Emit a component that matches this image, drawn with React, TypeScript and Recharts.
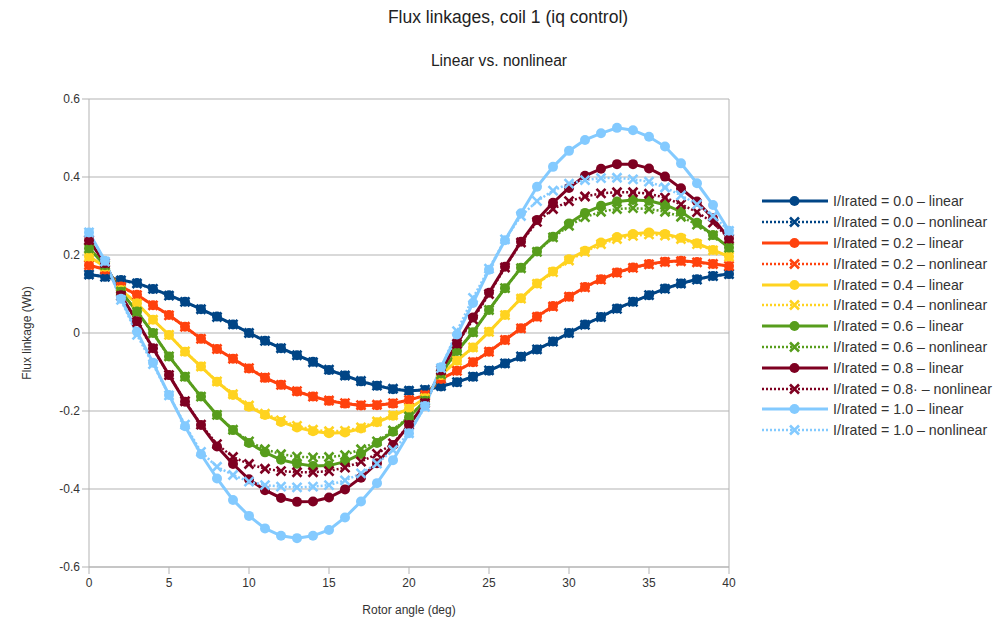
import { CartesianGrid, Line, LineChart, ReferenceLine, XAxis, YAxis } from "recharts";

const palette = {
  blue: "#004586",
  orange: "#ff420e",
  yellow: "#ffd320",
  green: "#579d1c",
  maroon: "#7e0021",
  sky: "#83caff",
  grid: "#b3b3b3",
  text: "#333333",
};

const angles = [
  0, 1, 2, 3, 4, 5, 6, 7, 8, 9, 10, 11, 12, 13, 14, 15, 16, 17, 18, 19, 20,
  21, 22, 23, 24, 25, 26, 27, 28, 29, 30, 31, 32, 33, 34, 35, 36, 37, 38, 39, 40,
];

const lin00 = [
  0.150, 0.144, 0.136, 0.128, 0.113, 0.097, 0.080, 0.061, 0.042, 0.022, 0.000,
  -0.020, -0.039, -0.057, -0.074, -0.095, -0.109, -0.124, -0.135, -0.144, -0.148,
  -0.146, -0.137, -0.126, -0.112, -0.097, -0.078, -0.061, -0.042, -0.022, 0.000,
  0.022, 0.041, 0.063, 0.080, 0.097, 0.114, 0.127, 0.138, 0.146, 0.151,
];
const non00 = [
  0.150, 0.144, 0.135, 0.127, 0.113, 0.096, 0.080, 0.061, 0.041, 0.022, 0.000,
  -0.020, -0.039, -0.057, -0.075, -0.094, -0.109, -0.123, -0.135, -0.143, -0.148,
  -0.145, -0.136, -0.126, -0.112, -0.096, -0.078, -0.060, -0.042, -0.022, 0.000,
  0.021, 0.041, 0.062, 0.080, 0.097, 0.113, 0.127, 0.137, 0.146, 0.151,
];
const lin02 = [
  0.174, 0.163, 0.119, 0.098, 0.071, 0.046, 0.016, -0.015, -0.041, -0.066, -0.091,
  -0.115, -0.133, -0.150, -0.163, -0.174, -0.181, -0.186, -0.185, -0.181, -0.172,
  -0.160, -0.118, -0.097, -0.075, -0.048, -0.018, 0.012, 0.042, 0.069, 0.093,
  0.118, 0.138, 0.155, 0.168, 0.177, 0.183, 0.185, 0.182, 0.177, 0.172,
];
const non02 = [
  0.174, 0.163, 0.118, 0.097, 0.071, 0.045, 0.016, -0.015, -0.041, -0.066, -0.090,
  -0.114, -0.133, -0.149, -0.163, -0.173, -0.180, -0.185, -0.184, -0.180, -0.172,
  -0.159, -0.117, -0.097, -0.074, -0.048, -0.018, 0.012, 0.041, 0.068, 0.093,
  0.117, 0.137, 0.154, 0.167, 0.176, 0.182, 0.184, 0.181, 0.177, 0.172,
];
const lin04 = [
  0.196, 0.170, 0.110, 0.076, 0.034, -0.005, -0.048, -0.086, -0.125, -0.159, -0.189,
  -0.210, -0.228, -0.242, -0.252, -0.257, -0.255, -0.245, -0.229, -0.212, -0.194,
  -0.167, -0.108, -0.071, -0.037, 0.003, 0.046, 0.089, 0.127, 0.158, 0.189,
  0.211, 0.232, 0.246, 0.254, 0.258, 0.254, 0.244, 0.230, 0.213, 0.196,
];
const non04 = [
  0.196, 0.170, 0.109, 0.075, 0.034, -0.005, -0.047, -0.086, -0.124, -0.157, -0.186,
  -0.207, -0.224, -0.238, -0.248, -0.252, -0.251, -0.242, -0.227, -0.211, -0.194,
  -0.167, -0.107, -0.071, -0.037, 0.003, 0.046, 0.088, 0.126, 0.156, 0.186,
  0.208, 0.228, 0.241, 0.249, 0.253, 0.250, 0.241, 0.228, 0.212, 0.196,
];
const lin06 = [
  0.217, 0.174, 0.106, 0.055, 0.000, -0.060, -0.112, -0.163, -0.210, -0.249, -0.282,
  -0.306, -0.325, -0.335, -0.341, -0.340, -0.330, -0.310, -0.282, -0.253, -0.216,
  -0.174, -0.104, -0.046, 0.002, 0.059, 0.115, 0.167, 0.209, 0.247, 0.281,
  0.308, 0.326, 0.337, 0.341, 0.339, 0.329, 0.311, 0.283, 0.251, 0.219,
];
const non06 = [
  0.217, 0.174, 0.106, 0.054, -0.001, -0.060, -0.112, -0.163, -0.210, -0.248, -0.278,
  -0.298, -0.311, -0.317, -0.319, -0.318, -0.313, -0.298, -0.278, -0.250, -0.214,
  -0.174, -0.106, -0.046, 0.002, 0.059, 0.115, 0.166, 0.208, 0.245, 0.275,
  0.297, 0.311, 0.318, 0.320, 0.318, 0.311, 0.298, 0.278, 0.250, 0.219,
];
const lin08 = [
  0.238, 0.179, 0.097, 0.030, -0.039, -0.108, -0.176, -0.236, -0.291, -0.336, -0.375,
  -0.403, -0.423, -0.433, -0.432, -0.422, -0.401, -0.371, -0.334, -0.287, -0.236,
  -0.180, -0.096, -0.027, 0.040, 0.103, 0.170, 0.234, 0.290, 0.334, 0.372,
  0.403, 0.421, 0.433, 0.433, 0.422, 0.401, 0.371, 0.337, 0.294, 0.242,
];
const non08 = [
  0.238, 0.179, 0.095, 0.028, -0.040, -0.108, -0.175, -0.235, -0.285, -0.318, -0.336,
  -0.348, -0.354, -0.357, -0.357, -0.354, -0.345, -0.330, -0.310, -0.283, -0.236,
  -0.180, -0.095, -0.028, 0.035, 0.100, 0.168, 0.232, 0.285, 0.318, 0.338,
  0.350, 0.358, 0.361, 0.361, 0.357, 0.347, 0.330, 0.310, 0.283, 0.242,
];
const lin10 = [
  0.258, 0.185, 0.088, 0.003, -0.076, -0.159, -0.239, -0.311, -0.373, -0.428, -0.469,
  -0.501, -0.520, -0.526, -0.520, -0.505, -0.473, -0.432, -0.385, -0.326, -0.257,
  -0.187, -0.088, -0.004, 0.077, 0.162, 0.238, 0.307, 0.375, 0.426, 0.467,
  0.495, 0.512, 0.526, 0.520, 0.503, 0.478, 0.435, 0.384, 0.328, 0.262,
];
const non10 = [
  0.258, 0.183, 0.085, -0.005, -0.080, -0.160, -0.235, -0.305, -0.343, -0.364, -0.381,
  -0.390, -0.394, -0.396, -0.394, -0.390, -0.378, -0.360, -0.335, -0.300, -0.257,
  -0.189, -0.090, 0.005, 0.090, 0.165, 0.240, 0.300, 0.338, 0.365, 0.383,
  0.392, 0.397, 0.398, 0.394, 0.388, 0.373, 0.353, 0.330, 0.300, 0.262,
];

const yTicks = [-0.6, -0.4, -0.2, 0, 0.2, 0.4, 0.6];
const xTicks = [0, 5, 10, 15, 20, 25, 30, 35, 40];

const series = [
  { key: "lin00", name: "I/Irated = 0.0 – linear", color: palette.blue, values: lin00, nonlinear: false },
  { key: "non00", name: "I/Irated = 0.0 – nonlinear", color: palette.blue, values: non00, nonlinear: true },
  { key: "lin02", name: "I/Irated = 0.2 – linear", color: palette.orange, values: lin02, nonlinear: false },
  { key: "non02", name: "I/Irated = 0.2 – nonlinear", color: palette.orange, values: non02, nonlinear: true },
  { key: "lin04", name: "I/Irated = 0.4 – linear", color: palette.yellow, values: lin04, nonlinear: false },
  { key: "non04", name: "I/Irated = 0.4 – nonlinear", color: palette.yellow, values: non04, nonlinear: true },
  { key: "lin06", name: "I/Irated = 0.6 – linear", color: palette.green, values: lin06, nonlinear: false },
  { key: "non06", name: "I/Irated = 0.6 – nonlinear", color: palette.green, values: non06, nonlinear: true },
  { key: "lin08", name: "I/Irated = 0.8 – linear", color: palette.maroon, values: lin08, nonlinear: false },
  { key: "non08", name: "I/Irated = 0.8· – nonlinear", color: palette.maroon, values: non08, nonlinear: true },
  { key: "lin10", name: "I/Irated = 1.0 – linear", color: palette.sky, values: lin10, nonlinear: false },
  { key: "non10", name: "I/Irated = 1.0 – nonlinear", color: palette.sky, values: non10, nonlinear: true },
];

const rows = angles.map((angle, i) => {
  const row: Record<string, number> = { angle };
  series.forEach((s) => {
    row[s.key] = s.values[i];
  });
  return row;
});

const font = '"Liberation Sans", Arial, sans-serif';

function CrossDot(props: any) {
  const { cx, cy, stroke, index } = props;
  if (cx == null || cy == null) return null;
  const d = 4.5;
  return (
    <path
      key={`x-${index}`}
      d={`M${cx - d},${cy - d}L${cx + d},${cy + d}M${cx - d},${cy + d}L${cx + d},${cy - d}`}
      stroke={stroke}
      strokeWidth={2.6}
      fill="none"
    />
  );
}

// legend drawn beside the chart so it doesn't eat plot width
function LegendBox() {
  return (
    <div
      style={{
        position: "absolute",
        left: 760,
        top: 191,
        fontFamily: font,
        fontSize: 14.2,
        color: palette.text,
      }}
    >
      {series.map((s) => (
        <div key={s.key} style={{ display: "flex", alignItems: "center", height: 20.8 }}>
          <svg width={70} height={20} style={{ flex: "none" }}>
            <line
              x1={2}
              x2={68}
              y1={10}
              y2={10}
              stroke={s.color}
              strokeWidth={s.nonlinear ? 2.5 : 3}
              strokeDasharray={s.nonlinear ? "2 2" : undefined}
            />
            {s.nonlinear ? (
              <path d="M30,5.5L39,14.5M30,14.5L39,5.5" stroke={s.color} strokeWidth={2.6} />
            ) : (
              <circle cx={34.5} cy={10} r={5} fill={s.color} />
            )}
          </svg>
          <span style={{ marginLeft: 3, whiteSpace: "nowrap" }}>{s.name}</span>
        </div>
      ))}
    </div>
  );
}

export default function App() {
  return (
    <div style={{ position: "relative", width: 1001, height: 630, background: "#fff", fontFamily: font }}>
      <style>{"body{margin:0}"}</style>
      <div style={{ position: "absolute", top: 7, left: 0, width: 1016, textAlign: "center", fontSize: 17.5, color: "#222" }}>
        Flux linkages, coil 1 (iq control)
      </div>
      <div style={{ position: "absolute", top: 52, left: 0, width: 998, textAlign: "center", fontSize: 15.6, color: "#222" }}>
        Linear vs. nonlinear
      </div>
      <div
        style={{
          position: "absolute",
          left: 27,
          top: 333,
          transform: "translate(-50%, -50%) rotate(-90deg)",
          fontSize: 12,
          color: palette.text,
          whiteSpace: "nowrap",
        }}
      >
        Flux linkage (Wb)
      </div>
      <div
        style={{
          position: "absolute",
          left: 409,
          top: 610,
          transform: "translate(-50%, -50%)",
          fontSize: 12,
          color: palette.text,
          whiteSpace: "nowrap",
        }}
      >
        Rotor angle (deg)
      </div>
      <LineChart
        width={1001}
        height={630}
        data={rows}
        margin={{ top: 99, right: 272, bottom: 33, left: 39 }}
        style={{ position: "absolute", left: 0, top: 0 }}
      >
        <CartesianGrid stroke={palette.grid} vertical={false} />
        <XAxis
          dataKey="angle"
          type="number"
          domain={[0, 40]}
          ticks={xTicks}
          height={30}
          stroke={palette.grid}
          tickSize={7}
          tick={{ fill: palette.text, fontSize: 12, fontFamily: font, dy: 2 }}
        />
        <YAxis
          type="number"
          domain={[-0.6, 0.6]}
          ticks={yTicks}
          width={50}
          stroke={palette.grid}
          tickSize={7}
          tick={{ fill: palette.text, fontSize: 12, fontFamily: font }}
        />
        <ReferenceLine x={40} stroke={palette.grid} />
        {series.map((s) =>
          s.nonlinear ? (
            <Line
              key={s.key}
              dataKey={s.key}
              name={s.name}
              type="linear"
              stroke={s.color}
              strokeWidth={2.5}
              strokeDasharray="2 2"
              dot={<CrossDot />}
              activeDot={false}
              isAnimationActive={false}
            />
          ) : (
            <Line
              key={s.key}
              dataKey={s.key}
              name={s.name}
              type="linear"
              stroke={s.color}
              strokeWidth={3}
              dot={{ r: 5, fill: s.color, stroke: s.color, strokeWidth: 0 }}
              activeDot={false}
              isAnimationActive={false}
            />
          )
        )}
      </LineChart>
      <LegendBox />
    </div>
  );
}
